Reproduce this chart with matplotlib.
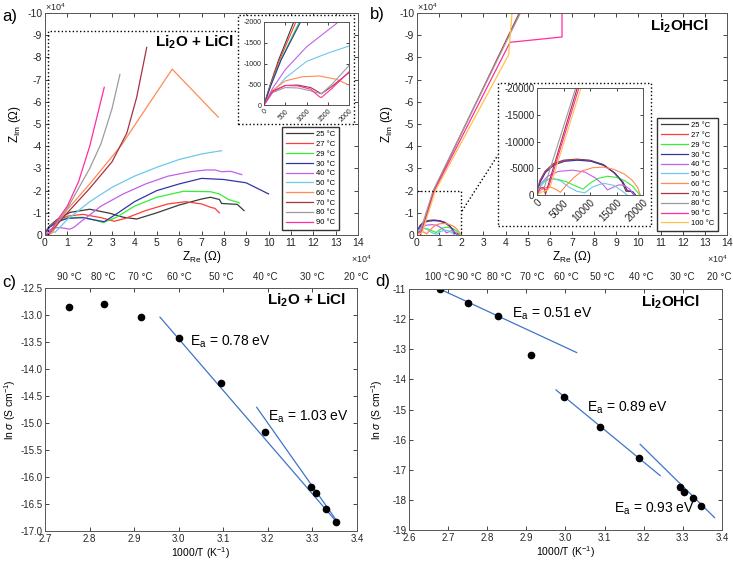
import numpy as np
import matplotlib
matplotlib.use("Agg")
import matplotlib.pyplot as plt
from matplotlib.patches import Rectangle
from matplotlib.lines import Line2D
import matplotlib.transforms as mtransforms

plt.rcParams['font.family'] = ['Liberation Sans', 'DejaVu Sans']
plt.rcParams['mathtext.fontset'] = 'custom'
plt.rcParams['mathtext.rm'] = 'Liberation Sans'
plt.rcParams['mathtext.it'] = 'Liberation Sans:italic'
plt.rcParams['mathtext.bf'] = 'Liberation Sans:bold'
plt.rcParams['axes.unicode_minus'] = False

# ---- impedance data, Li2O + LiCl (ohm, Z_Re / -Z_Im) ----
temps_a = [25, 27, 29, 30, 40, 50, 60, 70, 80, 90]
a25_x = [0, 150, 350, 700, 2000, 5200, 11200, 20000, 29000, 35000, 41000, 50000, 60000, 70000, 74000, 78000, 79000, 86000, 89000]
a25_y = [0, 500, 1100, 2000, 4000, 6800, 10200, 11600, 9800, 8000, 7200, 10000, 13500, 16200, 17000, 16000, 14200, 13800, 11000]
a27_x = [0, 150, 350, 750, 2000, 5000, 10000, 17000, 25000, 31000, 36000, 45000, 55000, 63000, 70000, 74000, 76000, 78000]
a27_y = [0, 480, 1050, 2000, 3800, 6000, 8500, 9300, 7800, 6200, 7500, 11000, 14000, 15000, 14000, 12500, 12000, 10000]
a29_x = [0, 150, 400, 830, 2000, 5000, 10000, 17000, 23000, 26000, 32000, 40000, 50000, 62000, 74000, 78000, 82000, 87000]
a29_y = [0, 450, 1100, 2000, 3600, 5800, 7800, 8000, 6500, 5600, 8000, 13000, 17000, 19700, 19500, 18500, 16000, 14500]
a30_x = [0, 150, 400, 860, 2000, 5000, 10000, 17000, 22000, 26500, 32000, 40000, 50000, 60000, 70000, 80000, 90000, 100000]
a30_y = [0, 440, 1080, 2000, 3500, 5700, 7500, 7800, 6800, 6000, 9500, 15000, 20000, 23000, 25500, 25000, 23500, 18500]
a40_x = [0, 200, 500, 1000, 1750, 3000, 5000, 7000, 9000, 11000, 13000, 16000, 20000, 25000, 35000, 45000, 55000, 65000, 72000, 76000, 79000, 83000, 88000]
a40_y = [0, 400, 850, 1400, 2000, 2800, 3300, 3300, 3000, 2600, 3500, 6000, 9000, 13000, 18500, 23000, 26500, 28500, 29300, 29300, 28500, 28700, 27200]
a50_x = [0, 200, 500, 1000, 1500, 2000, 3000, 4500, 10000, 20000, 30000, 40000, 50000, 60000, 70000, 79000]
a50_y = [0, 300, 650, 1050, 1250, 1420, 1500, 1200, 7000, 15000, 21500, 26500, 30500, 34000, 36500, 38000]
a60_x = [0, 200, 500, 900, 1300, 1700, 2000, 3000, 10000, 20000, 34300, 43200, 56900, 77500]
a60_y = [0, 350, 580, 680, 700, 620, 480, 700, 11500, 23000, 40600, 54100, 74700, 53100]
a70_x = [0, 200, 500, 800, 1100, 1300, 1350, 1600, 2000, 10000, 20000, 30000, 36600, 41000, 45500]
a70_y = [0, 330, 470, 480, 420, 300, 270, 450, 780, 10000, 21000, 33000, 45900, 62000, 84500]
a80_x = [0, 200, 500, 800, 1100, 1350, 1600, 2000, 10000, 20000, 25000, 30000, 33500]
a80_y = [0, 300, 420, 410, 340, 270, 500, 950, 12000, 30000, 41000, 57000, 72300]
a90_x = [0, 200, 500, 800, 1100, 1300, 1350, 1600, 2000, 5000, 10000, 15000, 20000, 26500]
a90_y = [0, 320, 470, 460, 380, 200, 180, 400, 800, 6000, 13000, 24000, 40000, 66500]

# ---- impedance data, Li2OHCl (ohm) ----
temps_b = [25, 27, 29, 30, 40, 50, 60, 70, 80, 90, 100]
b25_x = [0, 500, 1500, 3000, 5000, 7500, 10000, 12500, 14500, 16000, 16800, 17300, 17800, 18300]
b25_y = [0, 2600, 4400, 5800, 6500, 6700, 6500, 5700, 4200, 2500, 700, 750, 650, 0]
b27_x = [0, 500, 1500, 3000, 5000, 7500, 10000, 12500, 14500, 16200, 17000, 17500, 18000, 18500]
b27_y = [0, 2500, 4300, 5700, 6400, 6600, 6400, 5600, 4200, 2400, 700, 750, 600, 0]
b29_x = [0, 500, 1500, 2500, 4000, 5500, 7000, 8700, 10000, 11500, 13300, 15000, 16500, 18000, 19400]
b29_y = [0, 1500, 2600, 3050, 2900, 2500, 1800, 1100, 2200, 3100, 3500, 3300, 2700, 1700, 0]
b30_x = [0, 600, 1600, 3200, 5200, 7700, 10200, 12700, 14700, 16300, 17100, 17600, 18100, 18600]
b30_y = [0, 2400, 4200, 5600, 6300, 6500, 6300, 5500, 4100, 2300, 700, 700, 600, 0]
b40_x = [0, 800, 2000, 4000, 6700, 9000, 11000, 12500, 13300, 14500, 15500, 16500, 17500, 18400]
b40_y = [0, 2200, 3500, 4400, 4650, 4300, 3200, 1900, 950, 1500, 1900, 1800, 1100, 0]
b50_x = [0, 500, 1500, 3000, 4500, 6000, 7500, 9000, 10500, 12500, 14500, 16000, 17000]
b50_y = [0, 1600, 2800, 3100, 2600, 1500, 700, 400, 1500, 2200, 1800, 800, 0]
b60_x = [0, 700, 1500, 2500, 3500, 4400, 5500, 7000, 8500, 10500, 12500, 14500, 16500, 18000, 19000, 19500]
b60_y = [0, 900, 1400, 1500, 1100, 500, 1800, 3300, 4500, 5100, 5200, 4800, 3900, 2700, 1400, 0]
b70_x = [0, 300, 700, 1300, 1600, 2000, 7600, 46200]
b70_y = [0, 900, 1400, 1400, 100, 1500, 20000, 100000]
b80_x = [0, 200, 700, 1100, 1400, 7300, 46700]
b80_y = [0, 1000, 1500, 1100, 1500, 20000, 100000]
b90_x = [0, 500, 1000, 1800, 2200, 7900, 42000, 65500, 65500]
b90_y = [0, 1100, 1450, 900, 1500, 20000, 86800, 89200, 100000]
b100_x = [0, 1000, 2000, 2500, 8300, 41400, 42900]
b100_y = [0, 600, 900, 1600, 20000, 81200, 100000]

# ---- Arrhenius data ----
c_x = [2.7547, 2.8333, 2.9156, 3.0017, 3.0938, 3.1926, 3.2967, 3.3079, 3.3304, 3.3536]
c_y = [-12.86, -12.79, -13.04, -13.43, -14.26, -15.17, -16.18, -16.29, -16.59, -16.83]
c_fit1_x = [2.958, 3.355]
c_fit1_y = [-13.04, -16.84]
c_fit2_x = [3.175, 3.357]
c_fit2_y = [-14.71, -16.84]
d_x = [2.6786, 2.7511, 2.8280, 2.9108, 2.9970, 3.0892, 3.1874, 3.2916, 3.3035, 3.3249, 3.3470]
d_y = [-11.00, -11.45, -11.90, -13.18, -14.60, -15.58, -16.62, -17.58, -17.74, -17.94, -18.21]
d_fit1_x = [2.6786, 3.0286]
d_fit1_y = [-11.00, -13.11]
d_fit2_x = [2.9757, 3.242]
d_fit2_y = [-14.35, -17.195]
d_fit3_x = [3.1908, 3.3812]
d_fit3_y = [-16.155, -18.59]
top_c = [90, 80, 70, 60, 50, 40, 30, 20]
top_d = [100, 90, 80, 70, 60, 50, 40, 30, 20]

colors = {25: '#3a3a3a', 27: '#ff3c3c', 29: '#33ee33', 30: '#3434a8', 40: '#c460e8',
          50: '#6cc8ec', 60: '#ff8a55', 70: '#a63244', 80: '#9c9c9c', 90: '#ff2e9c', 100: '#ffc24a'}

W, H = 733, 565
fig = plt.figure(figsize=(W / 100, H / 100), dpi=100)


def px_axes(l, t, r, b):
    return fig.add_axes([l / W, 1 - b / H, (r - l) / W, (b - t) / H])


def style(ax, fs):
    ax.tick_params(direction='in', top=True, right=True, length=3, width=0.6,
                   labelsize=fs, colors='#262626', pad=2)
    for s in ax.spines.values():
        s.set_color('#555555')
        s.set_linewidth(0.7)


def nyquist(ax, xs, ys, temps, scale, lw=0.9):
    for t, x, y in zip(temps, xs, ys):
        ax.plot(np.array(x) / scale, -np.array(y) / scale, color=colors[t], lw=lw, label=f'{t} °C')


a_xs = [a25_x, a27_x, a29_x, a30_x, a40_x, a50_x, a60_x, a70_x, a80_x, a90_x]
a_ys = [a25_y, a27_y, a29_y, a30_y, a40_y, a50_y, a60_y, a70_y, a80_y, a90_y]
b_xs = [b25_x, b27_x, b29_x, b30_x, b40_x, b50_x, b60_x, b70_x, b80_x, b90_x, b100_x]
b_ys = [b25_y, b27_y, b29_y, b30_y, b40_y, b50_y, b60_y, b70_y, b80_y, b90_y, b100_y]

# ---------- a) ----------
ax = px_axes(45, 13, 358, 235)
nyquist(ax, a_xs, a_ys, temps_a, 1e4)
ax.set_xlim(0, 14)
ax.set_ylim(0, -10)
ax.set_xticks(range(0, 15))
ax.set_yticks(range(0, -11, -1))
style(ax, 7.5)
ax.set_xlabel(r'Z$_{\rm Re}$ ($\Omega$)', fontsize=8.5, labelpad=1)
ax.set_ylabel(r'Z$_{\rm Im}$ ($\Omega$)', fontsize=8.5)
ax.yaxis.set_label_coords(-0.07, 0.5)
ax.plot([0.134, 0.134, 8.63], [0, -9.19, -9.19], ls=':', color='k', lw=1)
ax.text(6.7, -8.67, 'Li$_\\mathbf{2}$O + LiCl', fontsize=11, fontweight='bold', ha='center', va='center')
ax.legend(loc='upper left', bbox_to_anchor=(282 / W, 1 - 127 / H), bbox_transform=fig.transFigure,
          borderaxespad=0, fontsize=5.5, handlelength=3.6, handletextpad=0.4, labelspacing=0.32,
          fancybox=False, edgecolor='#333333', framealpha=1, borderpad=0.5)
fig.text(45 / W, 1 - 13 / H, '×10$^4$', fontsize=6.5, color='#262626', va='bottom')
fig.text(351 / W, 1 - 265 / H, '×10$^4$', fontsize=6.5, color='#262626', va='bottom')
fig.text(2 / W, 1 - 17 / H, 'a)', fontsize=12, va='center')

fig.patches.append(Rectangle((238 / W, 1 - 124 / H), 116 / W, 109 / H, transform=fig.transFigure,
                             fill=True, facecolor='white', edgecolor='k', ls=':', lw=1, zorder=3))
ins = px_axes(264, 22, 349, 105)
ins.set_zorder(5)
nyquist(ins, a_xs, a_ys, temps_a, 1, lw=0.8)
ins.set_xlim(0, 2000)
ins.set_ylim(0, -2000)
ins.set_xticks([0, 500, 1000, 1500, 2000])
ins.set_yticks([0, -500, -1000, -1500, -2000])
style(ins, 5)
ins.tick_params(length=2)
plt.setp(ins.get_xticklabels(), rotation=45, ha='right', rotation_mode='anchor')

# ---------- b) ----------
ax = px_axes(417, 13, 727, 235)
nyquist(ax, b_xs, b_ys, temps_b, 1e4)
ax.set_xlim(0, 14)
ax.set_ylim(0, -10)
ax.set_xticks(range(0, 15))
ax.set_yticks(range(0, -11, -1))
style(ax, 7.5)
ax.set_xlabel(r'Z$_{\rm Re}$ ($\Omega$)', fontsize=8.5, labelpad=1)
ax.set_ylabel(r'Z$_{\rm Im}$ ($\Omega$)', fontsize=8.5)
ax.yaxis.set_label_coords(-0.07, 0.5)
ax.plot([0, 2, 2], [-2, -2, 0], ls=':', color='k', lw=1)
ax.text(13.2, -9.4, 'Li$_\\mathbf{2}$OHCl', fontsize=11, fontweight='bold', ha='right', va='center')
ax.legend(loc='upper left', bbox_to_anchor=(657 / W, 1 - 118 / H), bbox_transform=fig.transFigure,
          borderaxespad=0, fontsize=5.5, handlelength=3.6, handletextpad=0.4, labelspacing=0.32,
          fancybox=False, edgecolor='#333333', framealpha=1, borderpad=0.5)
fig.text(417 / W, 1 - 13 / H, '×10$^4$', fontsize=6.5, color='#262626', va='bottom')
fig.text(707 / W, 1 - 265 / H, '×10$^4$', fontsize=6.5, color='#262626', va='bottom')
fig.text(370 / W, 1 - 15 / H, 'b)', fontsize=12, va='center')
fig.lines.append(Line2D([462 / W, 498 / W], [1 - 211 / H, 1 - 155 / H], transform=fig.transFigure,
                        ls=':', color='k', lw=1))

fig.patches.append(Rectangle((498 / W, 1 - 226 / H), 153 / W, 143 / H, transform=fig.transFigure,
                             fill=True, facecolor='white', edgecolor='k', ls=':', lw=1, zorder=3))
ins = px_axes(537, 88, 643, 195)
ins.set_zorder(5)
nyquist(ins, b_xs, b_ys, temps_b, 1, lw=0.8)
ins.set_xlim(0, 20000)
ins.set_ylim(0, -20000)
ins.set_xticks([0, 5000, 10000, 15000, 20000])
ins.set_yticks([0, -5000, -10000, -15000, -20000])
style(ins, 7)
ins.tick_params(length=2)
plt.setp(ins.get_xticklabels(), rotation=45, ha='right', rotation_mode='anchor')

# ---------- c) ----------
ax = px_axes(45, 288, 357, 531)
ax.plot(c_fit1_x, c_fit1_y, color='#3f74c8', lw=0.9)
ax.plot(c_fit2_x, c_fit2_y, color='#3f74c8', lw=0.9)
ax.plot(c_x, c_y, 'o', color='k', ms=4.5)
ax.set_xlim(2.7, 3.4)
ax.set_ylim(-17, -12.5)
ax.set_xticks(np.arange(2.7, 3.41, 0.1))
ax.set_yticks(np.arange(-17, -12.4, 0.5))
ax.xaxis.set_major_formatter('{x:.1f}')
ax.yaxis.set_major_formatter('{x:.1f}')
style(ax, 7)
ax.set_xlabel('1000/T (K$^{-1}$)', fontsize=7.5, labelpad=1)
ax.set_ylabel(r'ln $\sigma$ (S cm$^{-1}$)', fontsize=7.5)
ax.yaxis.set_label_coords(-0.087, 0.5)
ax.text(3.026, -13.5, 'E$_{\\rm a}$ = 0.78 eV', fontsize=10, va='center')
ax.text(3.2, -14.88, 'E$_{\\rm a}$ = 1.03 eV', fontsize=10, va='center')
ax.text(3.375, -12.72, 'Li$_\\mathbf{2}$O + LiCl', fontsize=11, fontweight='bold', ha='right', va='center')
tr = mtransforms.blended_transform_factory(ax.transData, ax.transAxes)
for t in top_c:
    ax.text(min(1000 / (t + 273.15), 3.398), 1.047, f'{t} °C', transform=tr, fontsize=7, ha='center',
            va='center', color='#262626', clip_on=False)
fig.text(2 / W, 1 - 283 / H, 'c)', fontsize=12, va='center')

# ---------- d) ----------
ax = px_axes(409, 289, 722, 530)
ax.plot(d_fit1_x, d_fit1_y, color='#3f74c8', lw=0.9)
ax.plot(d_fit2_x, d_fit2_y, color='#3f74c8', lw=0.9)
ax.plot(d_fit3_x, d_fit3_y, color='#3f74c8', lw=0.9)
ax.plot(d_x, d_y, 'o', color='k', ms=4.5)
ax.set_xlim(2.6, 3.4)
ax.set_ylim(-19, -11)
ax.set_xticks(np.arange(2.6, 3.41, 0.1))
ax.set_yticks(range(-19, -10))
ax.xaxis.set_major_formatter('{x:.1f}')
style(ax, 7)
ax.set_xlabel('1000/T (K$^{-1}$)', fontsize=7.5, labelpad=1)
ax.set_ylabel(r'ln $\sigma$ (S cm$^{-1}$)', fontsize=7.5)
ax.yaxis.set_label_coords(-0.077, 0.5)
ax.text(2.862, -11.81, 'E$_{\\rm a}$ = 0.51 eV', fontsize=10, va='center')
ax.text(3.054, -14.96, 'E$_{\\rm a}$ = 0.89 eV', fontsize=10, va='center')
ax.text(3.125, -18.31, 'E$_{\\rm a}$ = 0.93 eV', fontsize=10, va='center')
ax.text(3.345, -11.45, 'Li$_\\mathbf{2}$OHCl', fontsize=11, fontweight='bold', ha='right', va='center')
tr = mtransforms.blended_transform_factory(ax.transData, ax.transAxes)
for t in top_d:
    ax.text(min(1000 / (t + 273.15), 3.392), 1.05, f'{t} °C', transform=tr, fontsize=7, ha='center',
            va='center', color='#262626', clip_on=False)
fig.text(375 / W, 1 - 281 / H, 'd)', fontsize=12, va='center')

fig.savefig('out.png', dpi=100)
